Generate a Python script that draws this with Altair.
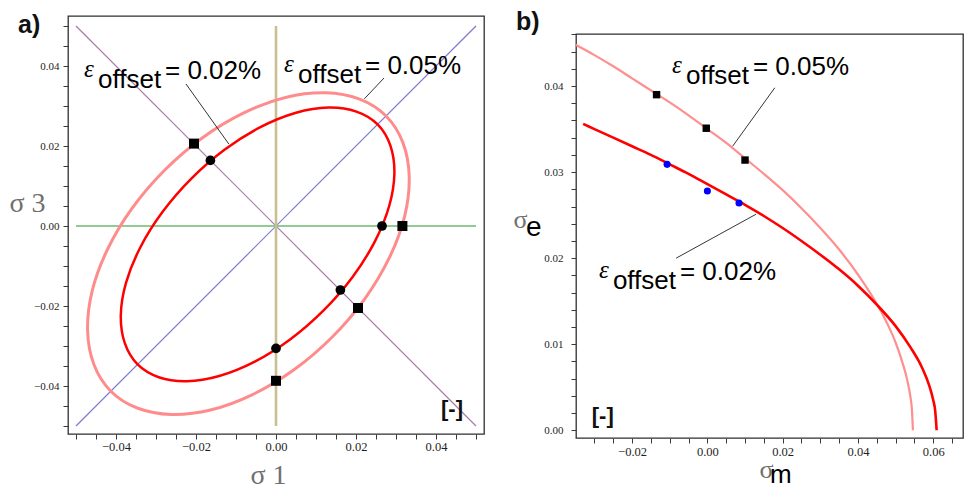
import altair as alt
import pandas as pd

# ---------------- panel a data (sigma1 / sigma3 plane) ----------------
IN_S1 = [0.0254, 0.0286, 0.0296, 0.0283, 0.0247, 0.0191, 0.0119, 0.0036, -0.0053, -0.0142, -0.0223, -0.0293,
         -0.0346, -0.0378, -0.0388, -0.0375, -0.0339, -0.0283, -0.0211, -0.0128, -0.0039, 0.0050, 0.0131, 0.0201]
IN_S3 = [0.0254, 0.0201, 0.0131, 0.0050, -0.0039, -0.0128, -0.0211, -0.0283, -0.0339, -0.0375, -0.0388, -0.0378,
         -0.0346, -0.0293, -0.0223, -0.0142, -0.0053, 0.0036, 0.0119, 0.0191, 0.0247, 0.0283, 0.0296, 0.0286]
OUT_S1 = [0.0275, 0.0317, 0.0333, 0.0322, 0.0284, 0.0222, 0.0140, 0.0044, -0.0060, -0.0164, -0.0262, -0.0347,
          -0.0413, -0.0455, -0.0471, -0.0460, -0.0422, -0.0360, -0.0278, -0.0182, -0.0078, 0.0026, 0.0124, 0.0209]
OUT_S3 = [0.0275, 0.0209, 0.0124, 0.0026, -0.0078, -0.0182, -0.0278, -0.0360, -0.0422, -0.0460, -0.0471, -0.0455,
          -0.0413, -0.0347, -0.0262, -0.0164, -0.0060, 0.0044, 0.0140, 0.0222, 0.0284, 0.0322, 0.0333, 0.0317]
CIRC_S1 = [0.0265, 0.0, -0.0164, 0.0161]
CIRC_S3 = [0.0, -0.0306, 0.0164, -0.0160]
SQ_S1 = [0.0316, 0.0, -0.0205, 0.0205]
SQ_S3 = [0.0, -0.0387, 0.0206, -0.0205]
REF_X1 = [-0.05, -0.05, -0.05, 0.0]
REF_Y1 = [-0.05, 0.05, 0.0, -0.05]
REF_X2 = [0.05, 0.05, 0.05, 0.0]
REF_Y2 = [0.05, -0.05, 0.0, 0.05]
REF_COLORS = ["#7b7bd0", "#a97aac", "#6cba6c", "#c9bf90"]
REF_WIDTHS = [1.2, 1.2, 1.7, 2.6]
A_LBL_X = [-0.0445, 0.0055]
A_LBL_Y = [0.0345, 0.03575]
A_LBL_EQ = ["= 0.02%", "= 0.05%"]
A_LEAD_X1 = [-0.0225, 0.0270]
A_LEAD_Y1 = [0.0355, 0.0370]
A_LEAD_X2 = [-0.0118, 0.0221]
A_LEAD_Y2 = [0.0205, 0.0318]

# ---------------- panel b data (sigma_m / sigma_e) ----------------
PINK_M = [-0.035, -0.030, -0.025, -0.020, -0.015, -0.010, -0.005, 0.000, 0.005, 0.010, 0.015, 0.020,
          0.025, 0.030, 0.035, 0.040, 0.045, 0.048, 0.050, 0.052, 0.053, 0.054, 0.0543, 0.0546]
PINK_E = [0.0448, 0.0436, 0.0423, 0.0409, 0.0395, 0.0381, 0.0366, 0.0350, 0.0334, 0.0316, 0.0298, 0.0279,
          0.0258, 0.0235, 0.0210, 0.0181, 0.0147, 0.0122, 0.0102, 0.0076, 0.0060, 0.0037, 0.0026, 0.0]
RED_M = [-0.033, -0.030, -0.025, -0.020, -0.015, -0.010, -0.005, 0.000, 0.005, 0.010, 0.015, 0.020,
         0.025, 0.030, 0.035, 0.040, 0.045, 0.050, 0.054, 0.057, 0.059, 0.060, 0.0605, 0.0609]
RED_E = [0.0356, 0.0350, 0.0340, 0.0330, 0.0320, 0.0309, 0.0298, 0.0286, 0.0274, 0.0262, 0.0249, 0.0235,
         0.0220, 0.0204, 0.0187, 0.0168, 0.0146, 0.0121, 0.0096, 0.0073, 0.0051, 0.0035, 0.0023, 0.0]
BSQ_M = [-0.0135, -0.0003, 0.0100]
BSQ_E = [0.0390, 0.0351, 0.0314]
BLUE_M = [-0.0107, 0.0, 0.0084]
BLUE_E = [0.0309, 0.0278, 0.0264]
B_LBL_X = [-0.0057, -0.0251]
B_LBL_Y = [0.0402, 0.0164]
B_LBL_EQ = ["= 0.05%", "= 0.02%"]
B_LEAD_X1 = [0.0179, -0.0083]
B_LEAD_Y1 = [0.0398, 0.0200]
B_LEAD_X2 = [0.0067, 0.0129]
B_LEAD_Y2 = [0.0330, 0.0251]

# ---------------- geometry / ticks ----------------
A_W, A_H = 416, 418
B_W, B_H = 387, 404
A_XDOM = [-0.052, 0.052]
A_YDOM = [-0.052, 0.0525]
B_XDOM = [-0.0349, 0.0679]
B_YDOM = [-0.0009, 0.04605]
A_TICKS = [round(-0.05 + 0.005 * i, 3) for i in range(21)]
B_XTICKS = [round(-0.035 + 0.005 * i, 3) for i in range(21)]
B_YTICKS = [round(0.002 * i, 3) for i in range(24)]
TICK_COLOR = "#3a3a3a"
TICK_LEN = 5


def sc(dom):
    return alt.Scale(domain=dom, nice=False, zero=False)


def label_axis(orient, values, per_major, pad, fsize, title, tx, ty, tsize=28, talign="center"):
    # every tick value gets a tick; only the major ones (multiples of 1/per_major) get a label
    lab = f"abs(datum.value * {per_major} - round(datum.value * {per_major})) < 0.001 ? datum.label : ''"
    return alt.Axis(orient=orient, values=values, format=".2f", labelExpr=lab,
                    ticks=True, tickSize=TICK_LEN, tickColor=TICK_COLOR, tickWidth=1,
                    domain=False, grid=False,
                    labelPadding=pad, labelFont="Liberation Serif", labelFontSize=fsize, labelColor="#1e1e1e",
                    labelOverlap=False, labelFlush=False,
                    title=title, titleX=tx, titleY=ty, titleAngle=0, titleAlign=talign,
                    titleBaseline="alphabetic", titleFont="Liberation Serif", titleFontSize=tsize,
                    titleFontWeight="normal", titleColor="#707070")


AX_A = (label_axis("bottom", A_TICKS, 50, 1, 12.5, "σ 1", 200, 49),
        label_axis("left", A_TICKS, 50, 4, 11, "σ 3", -41, 195))
AX_B = (label_axis("bottom", B_XTICKS, 50, 2, 12.5, "σ", 183, 39, tsize=26, talign="left"),
        label_axis("left", B_YTICKS, 100, 8, 11, "σ", -63, 193, tsize=26, talign="left"))


def xy(xdom, ydom, axes):
    return dict(x=alt.X("x:Q", scale=sc(xdom), axis=axes[0]), y=alt.Y("y:Q", scale=sc(ydom), axis=axes[1]))


def eps_labels(xs, ys, eqs, xdom, ydom, axes):
    df = pd.DataFrame({"x": xs, "y": ys, "eq": eqs})
    enc = xy(xdom, ydom, axes)
    eps = alt.Chart(df).mark_text(text="ε", align="left", baseline="alphabetic", dx=-14, dy=-11,
                                  font="Liberation Serif", fontStyle="italic", fontSize=25,
                                  color="black").encode(**enc)
    off = alt.Chart(df).mark_text(text="offset", align="left", baseline="alphabetic", font="Liberation Sans",
                                  fontSize=26, color="black").encode(**enc)
    eq = alt.Chart(df).mark_text(align="left", baseline="alphabetic", dx=67, dy=-9, font="Liberation Sans",
                                 fontSize=26, color="black").encode(text="eq:N", **enc)
    return [eps, off, eq]


def leaders(x1, y1, x2, y2, xdom, ydom, axes):
    df = pd.DataFrame({"x": x1, "y": y1, "x2": x2, "y2": y2})
    return alt.Chart(df).mark_rule(color="black", strokeWidth=0.8).encode(
        x2="x2:Q", y2="y2:Q", **xy(xdom, ydom, axes))


def px_text(txt, x, y, **kw):
    return alt.Chart(pd.DataFrame({"t": [txt]})).mark_text(**kw).encode(
        x=alt.value(x), y=alt.value(y), text="t:N")


def unit_marker(txt, x, y, xdom, ydom, axes):
    return alt.Chart(pd.DataFrame({"x": [x], "y": [y], "t": [txt]})).mark_text(
        align="center", baseline="middle", font="Liberation Sans", fontWeight="bold", fontSize=22,
        color="#111").encode(text="t:N", **xy(xdom, ydom, axes))


# ---------------- panel a ----------------
a_layers = []
for i in range(4):
    df = pd.DataFrame({"x": [REF_X1[i]], "y": [REF_Y1[i]], "x2": [REF_X2[i]], "y2": [REF_Y2[i]]})
    a_layers.append(alt.Chart(df).mark_rule(color=REF_COLORS[i], strokeWidth=REF_WIDTHS[i]).encode(
        x2="x2:Q", y2="y2:Q", **xy(A_XDOM, A_YDOM, AX_A)))

for s1, s3, col, w in [(OUT_S1, OUT_S3, "#ff8c8c", 3.0), (IN_S1, IN_S3, "#ff0000", 2.5)]:
    df = pd.DataFrame({"x": s1, "y": s3, "i": list(range(len(s1)))})
    a_layers.append(alt.Chart(df).mark_line(color=col, strokeWidth=w, interpolate="cardinal-closed").encode(
        order=alt.Order("i:Q"), **xy(A_XDOM, A_YDOM, AX_A)))

a_layers.append(leaders(A_LEAD_X1, A_LEAD_Y1, A_LEAD_X2, A_LEAD_Y2, A_XDOM, A_YDOM, AX_A))
a_layers.append(alt.Chart(pd.DataFrame({"x": SQ_S1, "y": SQ_S3})).mark_square(
    size=100, color="black", opacity=1).encode(**xy(A_XDOM, A_YDOM, AX_A)))
a_layers.append(alt.Chart(pd.DataFrame({"x": CIRC_S1, "y": CIRC_S3})).mark_circle(
    size=95, color="black", opacity=1).encode(**xy(A_XDOM, A_YDOM, AX_A)))
a_layers += eps_labels(A_LBL_X, A_LBL_Y, A_LBL_EQ, A_XDOM, A_YDOM, AX_A)
a_layers.append(unit_marker("[-]", 0.0440, -0.0458, A_XDOM, A_YDOM, AX_A))
a_layers.append(px_text("a)", -50, 17, align="left", baseline="alphabetic", font="Liberation Sans",
                        fontWeight="bold", fontSize=25, color="#111"))

panel_a = alt.layer(*a_layers).properties(width=A_W, height=A_H)

# ---------------- panel b ----------------
b_layers = []
for m, e, col, w in [(PINK_M, PINK_E, "#ff8f8f", 2.2), (RED_M, RED_E, "#ff0000", 2.6)]:
    df = pd.DataFrame({"x": m, "y": e})
    b_layers.append(alt.Chart(df).mark_line(color=col, strokeWidth=w, interpolate="monotone", clip=True).encode(
        **xy(B_XDOM, B_YDOM, AX_B)))
b_layers.append(leaders(B_LEAD_X1, B_LEAD_Y1, B_LEAD_X2, B_LEAD_Y2, B_XDOM, B_YDOM, AX_B))
b_layers.append(alt.Chart(pd.DataFrame({"x": BSQ_M, "y": BSQ_E})).mark_square(
    size=55, color="black", opacity=1).encode(**xy(B_XDOM, B_YDOM, AX_B)))
b_layers.append(alt.Chart(pd.DataFrame({"x": BLUE_M, "y": BLUE_E})).mark_circle(
    size=50, color="#0000ff", opacity=1).encode(**xy(B_XDOM, B_YDOM, AX_B)))
b_layers += eps_labels(B_LBL_X, B_LBL_Y, B_LBL_EQ, B_XDOM, B_YDOM, AX_B)
b_layers.append(unit_marker("[-]", -0.0278, 0.0017, B_XDOM, B_YDOM, AX_B))
b_layers.append(px_text("b)", -60, -4, align="left", baseline="alphabetic", font="Liberation Sans",
                        fontWeight="bold", fontSize=25, color="#111"))
b_layers.append(px_text("e", -50, 202, align="left", baseline="alphabetic", font="Liberation Sans",
                        fontSize=28, color="black"))
b_layers.append(px_text("m", 194, 449, align="left", baseline="alphabetic", font="Liberation Sans",
                        fontSize=26, color="black"))

panel_b = alt.layer(*b_layers).properties(width=B_W, height=B_H)

spacer = alt.Chart(pd.DataFrame({"v": [0]})).mark_point(opacity=0).encode(
    x=alt.X("v:Q", axis=None), y=alt.Y("v:Q", axis=None)).properties(
    width=1, height=1, view=alt.ViewBackground(stroke="transparent"))

right = alt.vconcat(spacer, panel_b, spacing=17, bounds="flush")

chart = alt.hconcat(panel_a, right, spacing=92, bounds="flush").properties(
    padding={"left": 0, "top": 1, "right": 0, "bottom": 0}, background="white"
).configure_view(stroke="#2e2e2e", strokeWidth=1.3)

chart.save("out.html", embed_options={"renderer": "svg", "actions": False})
